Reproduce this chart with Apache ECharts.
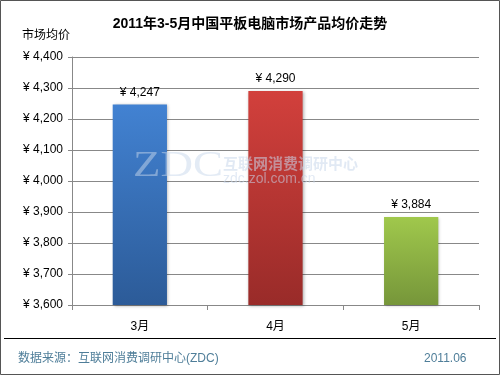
<!DOCTYPE html>
<html><head><meta charset="utf-8">
<script src="https://cdn.jsdelivr.net/npm/echarts@6/dist/echarts.min.js"></script>
<style>html,body{margin:0;padding:0;background:#fff}#c{width:500px;height:375px}</style>
</head><body><div id="c"></div>
<script>
const categories = ['3月', '4月', '5月'];
const prices = [4247, 4290, 3884];
const yTicks = [3600, 3700, 3800, 3900, 4000, 4100, 4200, 4300, 4400];
const titleText = '2011年3-5月中国平板电脑市场产品均价走势';
const yName = '市场均价';
const sourceText = '数据来源：互联网消费调研中心(ZDC)';
const dateText = '2011.06';

const gradients = [
  ['#4282d2', '#2c5b98'],
  ['#d2403c', '#992b29'],
  ['#a0c84c', '#76963a']
];
const font = '"Liberation Sans", "Noto Sans CJK SC", sans-serif';
const fmt = v => '¥ ' + v.toLocaleString('en-US');

const chart = echarts.init(document.getElementById('c'), null, {renderer: 'canvas'});
chart.setOption({
  animation: false,
  backgroundColor: '#fff',
  title: {
    text: titleText, left: 'center', top: 12,
    textStyle: {fontFamily: font, fontSize: 14, fontWeight: 'bold', color: '#000'}
  },
  graphic: [
    {type: 'rect', shape: {x: 0.5, y: 0.5, width: 499, height: 374}, style: {fill: 'none', stroke: '#555', lineWidth: 1}, z: 100},
    {type: 'line', shape: {x1: 4, y1: 338.5, x2: 496, y2: 338.5}, style: {stroke: '#000', lineWidth: 1}},
    {type: 'text', left: 18, top: 353, style: {text: sourceText, font: '12px ' + font, fill: '#4f7e99'}},
    {type: 'text', left: 424, top: 353, style: {text: dateText, font: '12px ' + font, fill: '#4f7e99'}},
    {type: 'text', left: 22, top: 30, style: {text: yName, font: '12px ' + font, fill: '#000'}},
    {type: 'text', x: 133, y: 149, scaleX: 1.25, z: 50, style: {text: 'ZDC', font: '36px "Liberation Serif", serif', fill: 'rgba(200,215,235,0.5)'}},
    {type: 'text', left: 223, top: 156, z: 50, style: {text: '互联网消费调研中心', font: 'bold 15px "Noto Sans CJK SC", sans-serif', fill: 'rgba(200,215,235,0.55)'}},
    {type: 'text', left: 223, top: 172, z: 50, style: {text: 'zdc.zol.com.cn', font: '14px ' + font, fill: 'rgba(200,215,235,0.55)'}}
  ],
  grid: {left: 72, right: 21, top: 57, bottom: 70, containLabel: false},
  xAxis: {
    type: 'category', data: categories,
    axisLine: {lineStyle: {color: '#888'}},
    axisTick: {show: true, length: 5, lineStyle: {color: '#888'}},
    axisLabel: {margin: 16, fontFamily: font, fontSize: 12, color: '#000'}
  },
  yAxis: {
    type: 'value', min: yTicks[0], max: yTicks[yTicks.length - 1], interval: 100,
    axisLine: {show: true, lineStyle: {color: '#888'}},
    axisTick: {show: true, length: 4, lineStyle: {color: '#888'}},
    splitLine: {lineStyle: {color: '#888'}},
    axisLabel: {margin: 9, fontFamily: font, fontSize: 12, color: '#000', formatter: fmt}
  },
  series: [{
    type: 'bar', barWidth: '40%',
    data: prices.map((v, i) => ({
      value: v,
      itemStyle: {
        color: new echarts.graphic.LinearGradient(0, 0, 0, 1, [
          {offset: 0, color: gradients[i][0]}, {offset: 1, color: gradients[i][1]}
        ]),
        shadowColor: 'rgba(0,0,0,0.3)', shadowBlur: 3, shadowOffsetX: 1, shadowOffsetY: 1
      }
    })),
    label: {show: true, position: 'top', distance: 6, fontFamily: font, fontSize: 12, color: '#000', formatter: p => fmt(p.value)}
  }]
});
</script></body></html>
